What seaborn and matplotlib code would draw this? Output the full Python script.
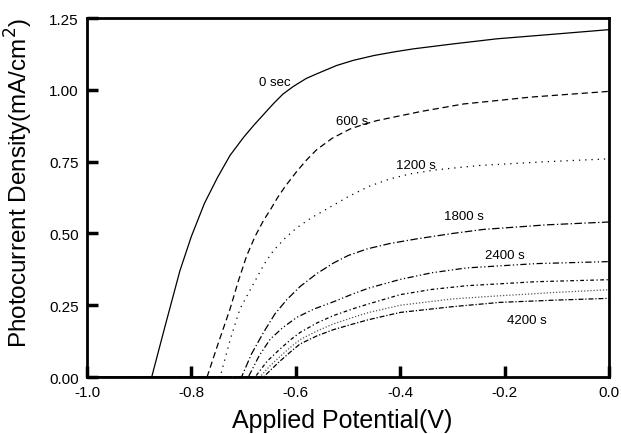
import matplotlib
matplotlib.use("Agg")
import matplotlib.pyplot as plt
import pandas as pd
import seaborn as sns

# photocurrent curves, one per illumination time
labels = ["0 sec", "600 s", "1200 s", "1800 s", "2400 s", "3000 s", "3600 s", "4200 s"]

x_0 = [-1.0, -0.876, -0.85, -0.822, -0.80, -0.775, -0.75, -0.726, -0.70, -0.68, -0.66,
       -0.643, -0.625, -0.605, -0.58, -0.56, -0.522, -0.49, -0.45, -0.41, -0.375,
       -0.30, -0.215, -0.10, 0.0]
y_0 = [0.0, 0.0, 0.18, 0.37, 0.49, 0.605, 0.695, 0.772, 0.835, 0.878, 0.918,
       0.952, 0.985, 1.012, 1.04, 1.056, 1.085, 1.103, 1.12, 1.133, 1.143,
       1.16, 1.178, 1.195, 1.21]

x_600 = [-1.0, -0.770, -0.75, -0.726, -0.71, -0.694, -0.678, -0.662, -0.648, -0.635,
         -0.62, -0.60, -0.58, -0.56, -0.53, -0.496, -0.47, -0.445, -0.40, -0.36,
         -0.279, -0.15, 0.0]
y_600 = [0.0, 0.0, 0.11, 0.237, 0.335, 0.423, 0.49, 0.545, 0.585, 0.625,
         0.665, 0.712, 0.755, 0.792, 0.832, 0.864, 0.88, 0.893, 0.91, 0.925,
         0.951, 0.975, 0.995]

x_1200 = [-1.0, -0.745, -0.725, -0.707, -0.69, -0.675, -0.66, -0.643, -0.62, -0.598,
          -0.57, -0.541, -0.50, -0.46, -0.42, -0.38, -0.33, -0.247, -0.12, 0.0]
y_1200 = [0.0, 0.0, 0.135, 0.237, 0.295, 0.345, 0.395, 0.44, 0.485, 0.52,
          0.555, 0.585, 0.628, 0.664, 0.69, 0.708, 0.722, 0.737, 0.75, 0.76]

x_1800 = [-1.0, -0.704, -0.685, -0.662, -0.64, -0.617, -0.592, -0.56, -0.528, -0.50,
          -0.464, -0.42, -0.369, -0.30, -0.241, -0.12, 0.0]
y_1800 = [0.0, 0.0, 0.08, 0.155, 0.22, 0.27, 0.315, 0.36, 0.397, 0.423,
          0.446, 0.465, 0.481, 0.50, 0.514, 0.53, 0.54]

x_2400 = [-1.0, -0.691, -0.67, -0.649, -0.625, -0.598, -0.565, -0.528, -0.49, -0.46,
          -0.40, -0.34, -0.273, -0.14, 0.0]
y_2400 = [0.0, 0.0, 0.075, 0.132, 0.172, 0.208, 0.237, 0.262, 0.29, 0.31,
          0.34, 0.363, 0.38, 0.395, 0.402]

x_3000 = [-1.0, -0.678, -0.655, -0.63, -0.61, -0.592, -0.56, -0.528, -0.49, -0.46,
          -0.40, -0.34, -0.273, -0.14, 0.0]
y_3000 = [0.0, 0.0, 0.055, 0.098, 0.13, 0.155, 0.188, 0.214, 0.238, 0.255,
          0.287, 0.305, 0.318, 0.332, 0.339]

x_3600 = [-1.0, -0.669, -0.65, -0.63, -0.61, -0.592, -0.56, -0.528, -0.49, -0.46,
          -0.40, -0.30, -0.209, -0.10, 0.0]
y_3600 = [0.0, 0.0, 0.038, 0.072, 0.104, 0.13, 0.16, 0.185, 0.208, 0.225,
          0.25, 0.272, 0.283, 0.295, 0.304]

x_4200 = [-1.0, -0.662, -0.645, -0.63, -0.61, -0.592, -0.56, -0.528, -0.49, -0.46,
          -0.40, -0.30, -0.209, -0.10, 0.0]
y_4200 = [0.0, 0.0, 0.03, 0.056, 0.088, 0.115, 0.143, 0.165, 0.185, 0.20,
          0.225, 0.245, 0.26, 0.268, 0.274]

xs = [x_0, x_600, x_1200, x_1800, x_2400, x_3000, x_3600, x_4200]
ys = [y_0, y_600, y_1200, y_1800, y_2400, y_3000, y_3600, y_4200]

# where the curve names are written
label_x = [-0.640, -0.492, -0.370, -0.278, -0.199, -0.157]
label_y = [1.028, 0.892, 0.739, 0.561, 0.425, 0.199]
label_text = ["0 sec", "600 s", "1200 s", "1800 s", "2400 s", "4200 s"]

x_ticks = [-1.0, -0.8, -0.6, -0.4, -0.2, 0.0]
x_ticklabels = ["-1.0", "-0.8", "-0.6", "-0.4", "-0.2", "0.0"]
y_ticks = [0.0, 0.25, 0.5, 0.75, 1.0, 1.25]
y_ticklabels = ["0.00", "0.25", "0.50", "0.75", "1.00", "1.25"]

rows = []
for name, xv, yv in zip(labels, xs, ys):
    for a, b in zip(xv, yv):
        rows.append({"curve": name, "V": a, "J": b})
df = pd.DataFrame(rows)

sns.set_style("ticks", {
    "xtick.direction": "in", "ytick.direction": "in",
    "axes.edgecolor": "black", "xtick.color": "black", "ytick.color": "black",
    "text.color": "black", "axes.labelcolor": "black",
})
plt.rcParams["font.family"] = ["Liberation Sans", "DejaVu Sans"]
plt.rcParams["axes.unicode_minus"] = False

dashes = {
    "0 sec": "",
    "600 s": (5, 3),
    "1200 s": (1, 4),
    "1800 s": (6, 2, 1, 2),
    "2400 s": (5, 2, 1, 2, 1, 2),
    "3000 s": (3, 2, 1, 2),
    "3600 s": (1, 1.5),
    "4200 s": (4, 1.5, 1, 1.5),
}
colors = {k: "black" for k in labels}
colors["3600 s"] = "#555555"

fig, ax = plt.subplots(figsize=(6.21, 4.35), dpi=100)
fig.subplots_adjust(left=0.140, right=0.981, top=0.956, bottom=0.131)

for name in labels:
    sub = df[df["curve"] == name]
    sns.lineplot(data=sub, x="V", y="J", sort=False, color=colors[name],
                 linewidth=0.9, ax=ax)
    if dashes[name]:
        ax.lines[-1].set_dashes(dashes[name])

for tx, ty, tt in zip(label_x, label_y, label_text):
    ax.text(tx, ty, tt, fontsize=9.5, ha="center", va="center")

ax.set_xlim(-1.0, 0.0)
ax.set_ylim(0.0, 1.25)
ax.set_xticks(x_ticks)
ax.set_xticklabels(x_ticklabels)
ax.set_yticks(y_ticks)
ax.set_yticklabels(y_ticklabels)
ax.tick_params(labelsize=11, pad=6, direction="in", length=8, width=2.5,
               bottom=True, left=True, top=False, right=False)

for sp in ax.spines.values():
    sp.set_linewidth(2)
    sp.set_visible(True)

ax.set_xlabel("Applied Potential(V)", fontsize=18)
ax.set_ylabel("Photocurrent Density(mA/cm$^2$)", fontsize=17.5)
ax.xaxis.set_label_coords(0.489, -0.085)
ax.yaxis.set_label_coords(-0.10, 0.543)

fig.savefig("out.png", dpi=100)
